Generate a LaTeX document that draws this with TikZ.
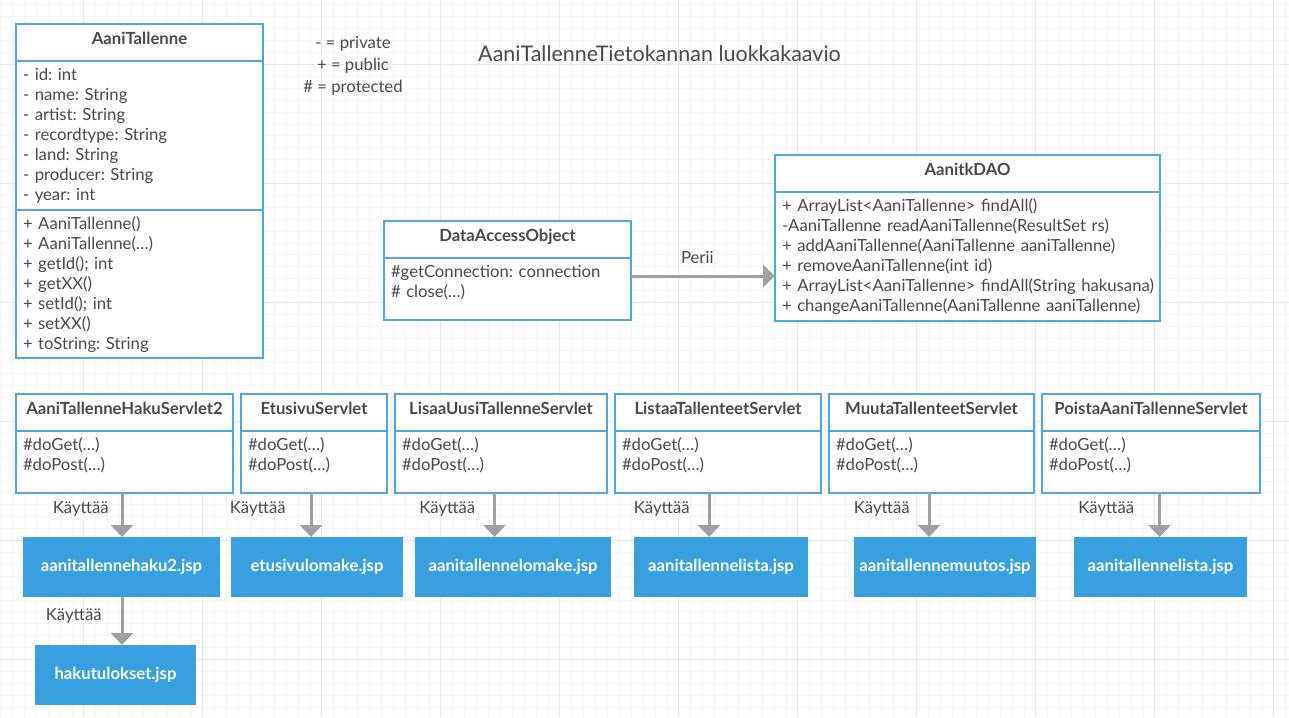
\documentclass[tikz,border=0pt]{standalone}
\usepackage{fontspec}
\setmainfont{Lato}
\frenchspacing
\usetikzlibrary{positioning,arrows.meta}
\definecolor{umlblue}{RGB}{78,166,224}
\definecolor{jspblue}{RGB}{56,160,223}
\definecolor{txtgray}{RGB}{72,72,72}
\definecolor{arrgray}{RGB}{160,160,160}
\tikzset{
  head/.style={draw=umlblue, line width=2pt, fill=white, outer sep=0pt, anchor=north west,
    minimum width=#1, minimum height=37pt, text height=12pt, text depth=8pt,
    font=\fontsize{16.7pt}{20pt}\selectfont\bfseries, text=txtgray},
  body/.style 2 args={draw=umlblue, line width=2pt, fill=white, outer sep=0pt, align=left,
    text width=#1, inner xsep=7pt, inner ysep=0pt, text height=19.5pt, text depth=#2,
    font=\fontsize{16.7pt}{20pt}\selectfont, text=txtgray},
  jsp/.style={fill=jspblue, outer sep=0pt, anchor=north west, minimum width=#1, minimum height=60pt,
    font=\fontsize{16.7pt}{20pt}\selectfont\bfseries, text=white},
  lbl/.style={font=\fontsize{16.7pt}{20pt}\selectfont, text=txtgray},
  uses/.style={draw=arrgray, line width=3pt, -{Triangle[length=12pt,width=22pt]}},
  minorgrid/.style={draw=black!4, line width=0.6pt},
  majorgrid/.style={draw=black!9, line width=0.8pt}
}
\begin{document}
\begin{tikzpicture}[x=1pt, y=-1pt]
\useasboundingbox (0,0) rectangle (1289,717);
\fill[white] (0,0) rectangle (1289,717);
% grid
\foreach \i in {0,...,108} \draw[minorgrid] ({0.4+11.9*\i},0) -- ({0.4+11.9*\i},717);
\foreach \i in {0,...,60} \draw[minorgrid] (0,{4.8+11.9*\i}) -- (1289,{4.8+11.9*\i});
\foreach \i in {0,...,10} \draw[majorgrid] ({83.7+119*\i},0) -- ({83.7+119*\i},717);
\foreach \i in {0,...,5} \draw[majorgrid] (0,{64.3+119*\i}) -- (1289,{64.3+119*\i});

\node[font=\fontsize{21.5pt}{25pt}\selectfont, text=txtgray] (title) at (659.5,54) {AaniTallenneTietokannan luokkakaavio};
\node[lbl, align=center, font=\fontsize{16.7pt}{22pt}\selectfont] (legend) at (353,66) {- = private\\+ = public\\\# = protected};

% luokat
\node[head=247pt] (tal) at (16,24) {AaniTallenne};
\node[body={233pt}{129.5pt}, below=0pt of tal] (talattr) {- id: int\\- name: String\\- artist: String\\- recordtype: String\\- land: String\\- producer: String\\- year: int};
\node[body={233pt}{128.5pt}, below=0pt of talattr] (talmeth) {+ AaniTallenne()\\+ AaniTallenne(…)\\+ getId(); int\\+ getXX()\\+ setId(); int\\+ setXX()\\+ toString: String};

\node[head=247pt] (dao) at (384,221) {DataAccessObject};
\node[body={233pt}{42.5pt}, below=0pt of dao] (daob) {\#getConnection: connection\\\# close(…)};

\node[head=385pt] (kdao) at (775,155) {AanitkDAO};
\node[body={371pt}{109.5pt}, below=0pt of kdao] (kdaob) {+ ArrayList<AaniTallenne> findAll()\\-AaniTallenne readAaniTallenne(ResultSet rs)\\+ addAaniTallenne(AaniTallenne aaniTallenne)\\+ removeAaniTallenne(int id)\\\mbox{+ ArrayList<AaniTallenne> findAll(String hakusana)}\\+ changeAaniTallenne(AaniTallenne aaniTallenne)};

\draw[uses] ([yshift=13pt]daob.east) -- node[lbl, pos=0.46, above=8pt] (perii) {Perii} ([yshift=-19.5pt]kdaob.west);

% servletit
\foreach \n/\x/\w/\t in {s1/16/217/AaniTallenneHakuServlet2, s2/241/146/EtusivuServlet, s3/395/212/LisaaUusiTallenneServlet, s4/615/206/ListaaTallenteetServlet, s5/829/205/MuutaTallenteetServlet, s6/1042/218/PoistaAaniTallenneServlet}{
  \pgfmathsetmacro\tw{\w-14}
  \node[head=\w pt] (\n) at (\x,394) {\t};
  \node[body={\tw pt}{42.5pt}, below=0pt of \n] (\n b) {\#doGet(…)\\\#doPost(…)};
}

% jsp-sivut
\foreach \n/\x/\w/\t in {j1/23/197/aanitallennehaku2.jsp, j2/231/172/etusivulomake.jsp, j3/415/196/aanitallennelomake.jsp, j4/634/174/aanitallennelista.jsp, j5/854/182/aanitallennemuutos.jsp, j6/1074/173/aanitallennelista.jsp}
  \node[jsp=\w pt] (\n) at (\x,537) {\t};
\node[jsp=161pt] (hak) at (35,645) {hakutulokset.jsp};

\foreach \s/\j/\dx/\g in {s1/j1/-2.5/8.5, s2/j2/-3/20.5, s3/j3/-6.5/14.5, s4/j4/-9/14.5, s5/j5/-2.5/14.5, s6/j6/8.5/20.5}
  \draw[uses] ([xshift=\dx pt]\s b.south) -- node[lbl, pos=0.36, left=\g pt] (k\s) {Käyttää} ([xshift=\dx pt]\s b.south |- \j.north);
\draw[uses] ([xshift=0.5pt]j1.south) -- node[lbl, pos=0.4, left=15.5pt] (kj1) {Käyttää} ([xshift=0.5pt]j1.south |- hak.north);
\end{tikzpicture}
\end{document}
